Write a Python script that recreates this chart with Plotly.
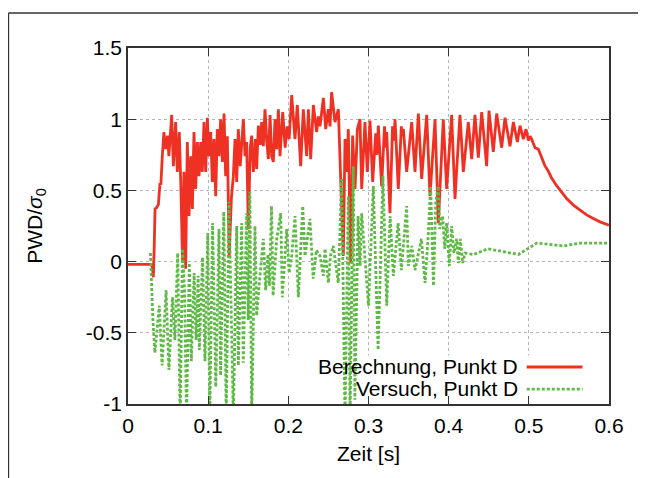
import plotly.graph_objects as go

# ---- data: Berechnung (calculation), Punkt D ----
t_calc = [0, 0.029, 0.0305, 0.0316, 0.0327, 0.0337, 0.0358, 0.0379, 0.0399, 0.0410,
          0.0428, 0.0448, 0.0469, 0.0494, 0.0510, 0.0545, 0.0566, 0.0594, 0.0615, 0.0640,
          0.0660, 0.0681, 0.0698, 0.0719, 0.0740, 0.0761, 0.0782, 0.0803, 0.0823, 0.0844,
          0.0865, 0.0886, 0.0907, 0.0927, 0.0948, 0.0969, 0.0990, 0.1010, 0.1031, 0.1052,
          0.1073, 0.1094, 0.1114, 0.1135, 0.1156, 0.1177, 0.1198, 0.1218, 0.1239, 0.1262,
          0.1290, 0.1314, 0.1335, 0.1356, 0.1376, 0.1400, 0.1439, 0.1460, 0.1480, 0.1501,
          0.1525, 0.1543, 0.1564, 0.1590, 0.1605, 0.1626, 0.1650, 0.1668, 0.1688, 0.1709,
          0.1730, 0.1751, 0.1772, 0.1792, 0.1813, 0.1834, 0.1855, 0.1876, 0.1896, 0.1930,
          0.1960, 0.1985, 0.2010, 0.2042, 0.2083, 0.2112, 0.2154, 0.2187, 0.2229, 0.2250,
          0.2279, 0.2312, 0.2353, 0.2375, 0.2395, 0.2437, 0.2466, 0.2499, 0.2520, 0.2540,
          0.2582, 0.2624, 0.2653, 0.2686, 0.2707, 0.2728, 0.2748, 0.2777, 0.2802, 0.2832,
          0.2861, 0.2894, 0.2915, 0.2956, 0.2985, 0.3019, 0.3052, 0.3090, 0.3105, 0.3123,
          0.3164, 0.3200, 0.3215, 0.3227, 0.3268, 0.3300, 0.3315, 0.3331, 0.3372, 0.3410,
          0.3420, 0.3435, 0.3476, 0.3539, 0.3580, 0.3622, 0.3663, 0.3726, 0.3767, 0.3830,
          0.3871, 0.3933, 0.3975, 0.4037, 0.4079, 0.4141, 0.4183, 0.4245, 0.4287, 0.4328,
          0.4370, 0.4412, 0.4474, 0.4503, 0.4557, 0.4599, 0.4661, 0.4703, 0.4765, 0.4807,
          0.4857, 0.4890, 0.4932, 0.4965, 0.4994, 0.5015, 0.5035, 0.5077, 0.5118, 0.5160,
          0.5200, 0.5240, 0.5280, 0.5347, 0.5410, 0.5472, 0.5555, 0.5638, 0.5721, 0.5804,
          0.5888, 0.6000]
v_calc = [-0.02, -0.02, -0.04, -0.11, 0.10, 0.37, 0.38, 0.40, 0.55, 0.54,
          0.74, 0.91, 0.79, 0.885, 0.74, 1.03, 0.67, 0.98, 0.63, 0.91,
          0.51, -0.01, 0.63, -0.05, 0.84, 0.32, 0.74, 0.37, 0.91, 0.51,
          0.84, 0.60, 0.84, 0.63, 0.98, 0.63, 1.01, 0.74, 0.91, 0.56,
          0.86, 0.46, 0.93, 0.74, 1.00, 0.70, 1.04, 0.60, 0.88, 0.04,
          0.45, 0.60, 0.86, 0.56, 0.93, 0.67, 1.00, 0.74, 0.84, 0.23,
          0.80, 0.885, 0.63, 0.86, 0.65, 0.955, 0.82, 0.98, 0.81, 1.07,
          0.85, 0.72, 1.03, 0.74, 0.70, 1.00, 0.79, 1.07, 0.74, 1.05,
          0.80, 0.95, 0.86, 1.17, 0.86, 1.10, 0.67, 1.07, 0.74, 1.07,
          0.72, 1.10, 0.91, 1.02, 0.95, 1.15, 0.93, 1.07, 0.95, 1.19,
          0.98, 1.07, 0.58, 0.04, 0.86, 0.63, 0.93, -0.01, 0.885, 0.51,
          0.93, 1.00, 0.51, 0.98, 0.63, 0.99, 0.56, 0.90, 0.75, 0.955,
          0.53, 0.95, 0.80, 0.91, 0.34, 0.95, 0.85, 1.00, 0.51, 0.95,
          0.88, 0.93, 0.63, 0.98, 0.63, 1.04, 0.58, 1.03, 0.46, 1.00,
          0.27, 1.00, 0.51, 1.03, 0.44, 1.03, 0.63, 0.98, 0.72, 1.03,
          0.73, 1.05, 0.67, 1.06, 0.77, 1.04, 0.80, 1.01, 0.81, 0.98,
          0.84, 0.955, 0.86, 0.93, 0.85, 0.88, 0.86, 0.80, 0.79, 0.73,
          0.674, 0.638, 0.591, 0.533, 0.486, 0.443, 0.397, 0.361, 0.328, 0.303,
          0.279, 0.255]

# ---- data: Versuch (test), Punkt D ----
t_test = [0.028, 0.031, 0.0335, 0.0365, 0.039, 0.0425, 0.0475, 0.051, 0.0555, 0.0585,
          0.062, 0.065, 0.068, 0.0705, 0.073, 0.0765, 0.079, 0.0825, 0.085, 0.0875,
          0.089, 0.093, 0.096, 0.0995, 0.102, 0.1055, 0.1095, 0.1135, 0.1155, 0.1195,
          0.1225, 0.126, 0.1314, 0.1356, 0.1376, 0.1418, 0.1438, 0.148, 0.150, 0.152,
          0.1543, 0.1584, 0.1605, 0.1646, 0.1688, 0.1717, 0.1745, 0.1765, 0.179, 0.181,
          0.1855, 0.1905, 0.1925, 0.198, 0.201, 0.2042, 0.2083, 0.2125, 0.218, 0.2208,
          0.227, 0.231, 0.235, 0.2395, 0.2436, 0.2457, 0.250, 0.2525, 0.256, 0.2623,
          0.2665, 0.2707, 0.2748, 0.277, 0.281, 0.283, 0.287, 0.2895, 0.2915, 0.300,
          0.306, 0.312, 0.318, 0.3227, 0.327, 0.331, 0.337, 0.341, 0.3435, 0.3476,
          0.3497, 0.354, 0.358, 0.362, 0.366, 0.3705, 0.3745, 0.3775, 0.381, 0.384,
          0.387, 0.389, 0.3925, 0.395, 0.3975, 0.4008, 0.4037, 0.4066, 0.410, 0.412,
          0.4145, 0.4175, 0.4204, 0.431, 0.449, 0.487, 0.510, 0.543, 0.564, 0.600]
v_test = [0.06, -0.40, -0.64, -0.45, -0.31, -0.73, -0.20, -0.76, -0.25, -0.55,
          0.06, -1.10, 0.09, -0.20, -1.10, -0.01, -0.70, -0.08, -0.55, -0.10,
          -0.62, 0.03, -0.70, 0.20, -1.10, 0.27, -0.88, 0.23, -0.80, 0.35,
          -1.10, 0.42, -1.10, 0.25, -0.73, 0.27, -0.71, 0.34, -0.41, 0.49,
          -1.10, 0.25, -0.38, -0.10, 0.16, -0.20, 0.05, -0.17, 0.39, -0.24,
          0.16, 0.34, -0.25, 0.23, -0.08, 0.04, 0.32, -0.25, 0.39, 0.04,
          0.30, -0.12, 0.08, 0.04, -0.10, 0.09, -0.15, 0.04, 0.11, -0.15,
          0.58, -1.10, 0.46, -1.10, 0.67, -0.97, 0.32, -0.03, 0.34, -0.31,
          0.53, -0.62, 0.60, -0.31, 0.32, -0.10, 0.27, -0.06, 0.11, 0.39,
          -0.03, 0.11, -0.06, 0.04, 0.16, -0.15, 0.18, 0.53, -0.17, 0.42,
          0.53, 0.23, 0.32, 0.09, 0.27, -0.03, 0.25, 0.06, 0.16, -0.01,
          0.16, -0.01, 0.06, 0.05, 0.09, 0.05, 0.13, 0.11, 0.13, 0.13]

x_ticks = [0, 0.1, 0.2, 0.3, 0.4, 0.5, 0.6]
x_ticktext = ["0", "0.1", "0.2", "0.3", "0.4", "0.5", "0.6"]
y_ticks = [-1, -0.5, 0, 0.5, 1, 1.5]
y_ticktext = ["-1", "-0.5", "0", "0.5", "1", "1.5"]
series_names = ["Berechnung, Punkt D", "Versuch, Punkt D"]

RED = "#ef3124"
GREEN = "#5fb946"
FONT = "Liberation Sans, Arial, Helvetica, sans-serif"
FS = 21

fig = go.Figure()
fig.add_trace(go.Scatter(x=t_calc, y=v_calc, mode="lines", name=series_names[0],
                         line=dict(color=RED, width=2.8)))
fig.add_trace(go.Scatter(x=t_test, y=v_test, mode="lines", name=series_names[1],
                         line=dict(color=GREEN, width=2.8, dash="3px,2px")))

axis_common = dict(showline=True, linecolor="#333333", linewidth=1.5, mirror="ticks",
                   ticks="inside", ticklen=8, tickcolor="#333333", tickwidth=1.2,
                   showgrid=True, gridcolor="#b5b5b5", griddash="dot", gridwidth=1,
                   zeroline=False, tickfont=dict(family=FONT, size=FS, color="black"))

fig.update_layout(
    width=646, height=478,
    margin=dict(l=120, r=45, t=40, b=82),
    paper_bgcolor="white", plot_bgcolor="white",
    showlegend=False,
    font=dict(family=FONT, size=FS, color="black"),
    xaxis=dict(range=[0, 0.6], tickvals=x_ticks, ticktext=x_ticktext,
               title=dict(text="Zeit [s]", standoff=10, font=dict(family=FONT, size=FS)),
               ticklabelstandoff=2, **axis_common),
    yaxis=dict(range=[-1, 1.5], tickvals=y_ticks, ticktext=y_ticktext,
               title=dict(text="PWD/<i>σ</i><sub>0</sub>", standoff=38,
                          font=dict(family=FONT, size=FS)),
               ticklabelstandoff=0, **axis_common),
)

# key background (hides grid, stays under the data, like gnuplot's key box)
fig.add_shape(type="rect", xref="x", yref="y", x0=0.152, x1=0.589, y0=-1, y1=-0.66,
              fillcolor="white", line=dict(width=0), layer="between")

# key: right-aligned labels with line samples on the right
key_rows = [(0.104, RED, "solid"), (0.042, GREEN, "3px,2px")]
for name, (ky, col, dash) in zip(series_names, key_rows):
    fig.add_annotation(xref="paper", yref="paper", x=0.815, y=ky + 0.002, text=name,
                       showarrow=False, xanchor="right", yanchor="middle",
                       font=dict(family=FONT, size=FS, color="black"))
    fig.add_shape(type="line", xref="paper", yref="paper", x0=0.829, x1=0.945,
                  y0=ky, y1=ky, line=dict(color=col, width=2.8, dash=dash))

# outer frame (partial border of the original page)
fig.add_shape(type="line", xref="paper", yref="paper", x0=-0.2484, x1=1.2,
              y0=1.0983, y1=1.0983, line=dict(color="#333333", width=1.3))
fig.add_shape(type="line", xref="paper", yref="paper", x0=-0.2484, x1=-0.2484,
              y0=1.0983, y1=-0.4, line=dict(color="#333333", width=1.3))

fig.write_html("out.html")
